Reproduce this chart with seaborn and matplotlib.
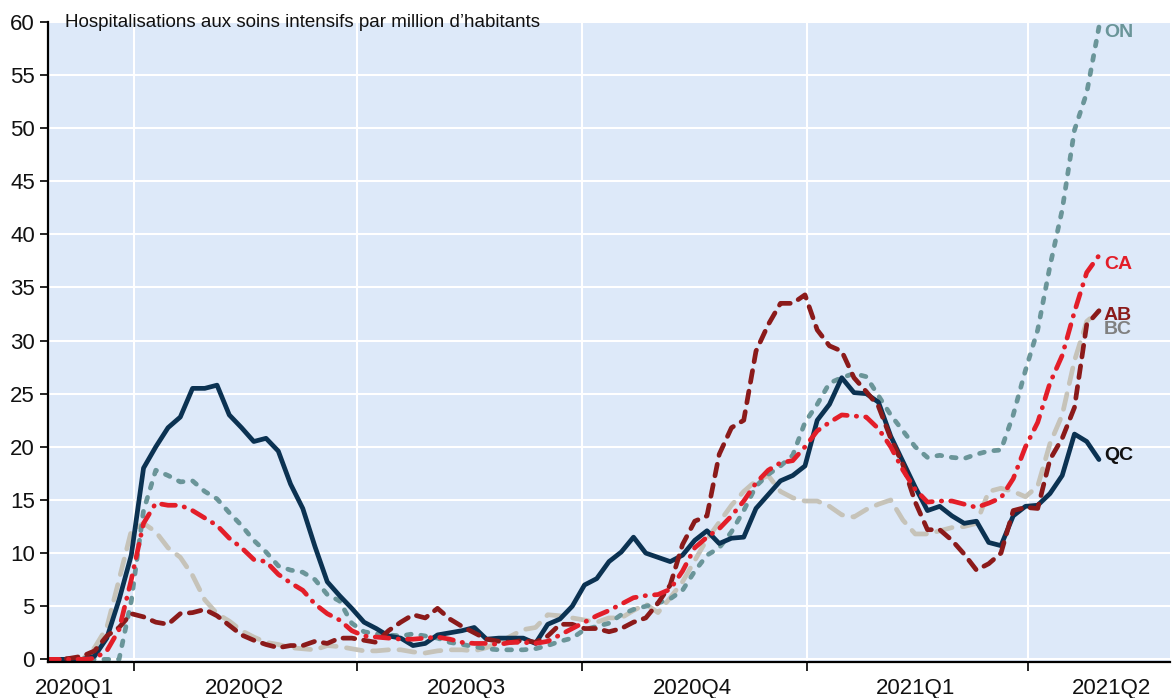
import matplotlib.pyplot as plt
import matplotlib.dates as mdates
import numpy as np
import pandas as pd
import seaborn as sns

# ICU hospitalisations per million, sampled every 5 days
dates = pd.date_range('2020-02-25', periods=87, freq='5D')

qc = [0, 0, 0, 0, 0.3, 2.0, 5.6, 9.8, 18.0, 20.0,
      21.8, 22.8, 25.5, 25.5, 25.8, 23.0, 21.8, 20.5, 20.8, 19.6,
      16.5, 14.2, 10.6, 7.3, 6.0, 4.8, 3.5, 2.9, 2.2, 2.0,
      1.3, 1.5, 2.3, 2.5, 2.7, 3.0, 1.9, 2.0, 2.0, 2.0,
      1.5, 3.3, 3.8, 5.0, 7.0, 7.6, 9.2, 10.1, 11.5, 10.0,
      9.6, 9.2, 9.8, 11.2, 12.1, 10.9, 11.4, 11.5, 14.2, 15.5,
      16.8, 17.3, 18.2, 22.5, 24.0, 26.5, 25.1, 25.0, 24.2, 21.0,
      18.6, 16.2, 14.0, 14.4, 13.5, 12.8, 13.0, 11.0, 10.7, 13.5,
      14.4, 14.5, 15.6, 17.3, 21.2, 20.5, 18.8]

on = [0, 0, 0, 0, 0, 0, 0, 5.5, 14.0, 17.8,
      17.3, 16.7, 16.8, 15.8, 15.1, 13.8, 12.6, 11.2, 10.1, 8.8,
      8.4, 8.2, 7.5, 6.1, 5.5, 3.4, 2.6, 2.4, 2.3, 2.2,
      2.4, 2.2, 2.0, 1.6, 1.4, 1.2, 1.0, 0.9, 0.9, 0.9,
      1.0, 1.3, 1.7, 2.0, 2.8, 3.1, 3.4, 4.2, 4.7, 5.0,
      5.3, 5.7, 6.5, 8.3, 9.8, 10.5, 12.0, 14.0, 16.3, 17.4,
      18.2, 19.2, 22.3, 24.0, 26.0, 26.5, 26.9, 26.6, 24.8, 23.0,
      21.5, 20.0, 19.0, 19.2, 19.0, 18.9, 19.3, 19.6, 19.7, 23.0,
      27.2, 31.0, 37.0, 42.3, 49.8, 53.3, 59.5]

ca = [0, 0, 0, 0, 0.1, 0.8, 2.8, 7.5, 12.8, 14.7,
      14.5, 14.5, 14.0, 13.3, 12.6, 11.4, 10.5, 9.4, 9.2, 8.0,
      7.2, 6.5, 5.2, 4.3, 3.7, 2.7, 2.2, 2.1, 2.0, 1.9,
      1.9, 2.0, 2.1, 1.9, 1.6, 1.5, 1.5, 1.4, 1.6, 1.6,
      1.5, 1.7, 2.3, 2.9, 3.5, 4.1, 4.6, 5.2, 5.8, 6.0,
      6.1, 6.6, 8.3, 10.5, 11.5, 12.3, 13.5, 14.9, 16.6, 17.8,
      18.5, 18.7, 20.0, 21.5, 22.3, 23.0, 22.9, 22.8, 21.7, 20.0,
      17.8, 16.0, 14.8, 14.9, 14.9, 14.6, 14.3, 14.7, 15.2, 17.0,
      20.0, 22.3, 26.0, 28.6, 32.7, 36.4, 38.0]

bc = [0, 0, 0, 0, 1.1, 3.0, 7.5, 12.1, 12.8, 12.0,
      10.5, 9.6, 7.9, 5.6, 4.3, 3.6, 2.7, 2.1, 1.6, 1.4,
      1.1, 1.0, 0.9, 1.3, 1.2, 1.0, 0.8, 0.8, 0.9, 0.9,
      0.7, 0.6, 0.8, 0.9, 0.9, 0.8, 1.1, 1.6, 2.2, 2.8,
      3.0, 4.2, 4.1, 3.9, 3.7, 3.5, 3.9, 3.9, 4.6, 5.2,
      4.4, 5.8, 7.3, 9.3, 11.3, 12.9, 14.5, 15.8, 16.8, 17.3,
      15.8, 15.2, 14.9, 14.9, 14.4, 13.6, 13.4, 14.1, 14.6, 15.0,
      13.1, 11.8, 11.8, 12.1, 12.4, 12.5, 12.8, 15.8, 16.1, 15.8,
      15.3, 16.3, 20.3, 23.0, 28.1, 31.8, 32.8]

ab = [0, 0, 0.1, 0.3, 0.8, 2.2, 3.0, 4.3, 4.0, 3.5,
      3.3, 4.3, 4.4, 4.7, 4.1, 3.2, 2.3, 1.8, 1.4, 1.1,
      1.3, 1.3, 1.7, 1.5, 2.0, 2.0, 1.8, 1.6, 2.7, 3.5,
      4.2, 3.9, 4.8, 3.8, 3.1, 2.5, 1.9, 1.7, 1.6, 1.8,
      1.6, 2.2, 3.3, 3.3, 2.9, 2.9, 2.6, 2.9, 3.5, 3.9,
      5.3, 7.0, 10.8, 13.0, 13.5, 19.3, 21.8, 22.5, 29.0, 31.5,
      33.5, 33.5, 34.3, 31.0, 29.5, 29.0, 26.5, 25.2, 23.8, 20.8,
      18.3, 14.8, 12.2, 12.2, 11.2, 9.9, 8.4, 9.0, 10.0, 14.0,
      14.3, 14.2, 18.8, 20.8, 23.7, 31.5, 32.8]

quarter_starts = pd.to_datetime(['2020-04-01', '2020-07-01', '2020-10-01',
                                 '2021-01-01', '2021-04-01'])
quarter_label_pos = pd.to_datetime(['2020-03-08', '2020-05-16', '2020-08-15',
                                    '2020-11-15', '2021-02-14', '2021-05-05'])
quarter_labels = ['2020Q1', '2020Q2', '2020Q3', '2020Q4', '2021Q1', '2021Q2']

title = 'Hospitalisations aux soins intensifs par million d\u2019habitants'

sns.set_theme(style='darkgrid', rc={'axes.facecolor': '#dde9f9',
                                    'grid.color': 'white',
                                    'grid.linewidth': 1.5,
                                    'lines.scale_dashes': False})
plt.rcParams['font.family'] = ['Liberation Sans', 'DejaVu Sans']

fig = plt.figure(figsize=(11.72, 6.98), dpi=100)
ax = fig.add_axes([48/1172, 1 - 661.5/698, 1122/1172, 639.8/698])

# name, values, color, linestyle, label y, label color
series = [
    ('BC', bc, '#c6c3b9', (0, (11.5, 7.5)), 31.0, '#808080'),
    ('ON', on, '#6a9599', (0, (3.5, 7.0)), 59.0, '#6a9599'),
    ('QC', qc, '#0b3252', '-', 19.2, '#111111'),
    ('AB', ab, '#8b1a1a', (0, (8.5, 6.5)), 32.4, '#8b1a1a'),
    ('CA', ca, '#e31e29', (0, (10.0, 6.5, 0.3, 6.5)), 37.2, '#e31e29'),
]

label_x = pd.Timestamp('2021-05-02')
for name, vals, col, ls, ly, lcol in series:
    sns.lineplot(x=dates, y=vals, ax=ax, color=col, linewidth=3.4,
                 linestyle=ls, dash_capstyle='round', solid_capstyle='round')
    ax.text(label_x, ly, name, color=lcol, fontsize=14, fontweight='bold',
            ha='left', va='center')

ax.set_xlim(pd.Timestamp('2020-02-26'), pd.Timestamp('2021-05-29'))
ax.set_ylim(-0.2, 60)
ax.set_yticks(np.arange(0, 61, 5))

ax.set_xticks(quarter_starts)
ax.set_xticklabels([])
ax.set_xticks(quarter_label_pos, minor=True)
ax.set_xticklabels(quarter_labels, minor=True)
ax.grid(True, which='major', axis='both', color='white', linewidth=1.5)
ax.grid(False, which='minor')

ax.tick_params(axis='x', which='major', bottom=True, length=6.5, width=1.2,
               color='black', direction='out')
ax.tick_params(axis='x', which='minor', bottom=True, length=0, pad=12,
               labelsize=16, labelcolor='#111111')
ax.tick_params(axis='y', left=True, length=5.5, width=1.2, color='black',
               direction='out', pad=4, labelsize=16, labelcolor='#111111')

for side in ['top', 'right']:
    ax.spines[side].set_visible(False)
for side in ['left', 'bottom']:
    ax.spines[side].set_visible(True)
    ax.spines[side].set_color('black')
    ax.spines[side].set_linewidth(1.6)

ax.set_xlabel('')
ax.set_ylabel('')
ax.text(0.0152, 0.992, title, transform=ax.transAxes, fontsize=13.5,
        color='#111111', ha='left', va='baseline')

fig.savefig('out.png', dpi=100, facecolor='white')
